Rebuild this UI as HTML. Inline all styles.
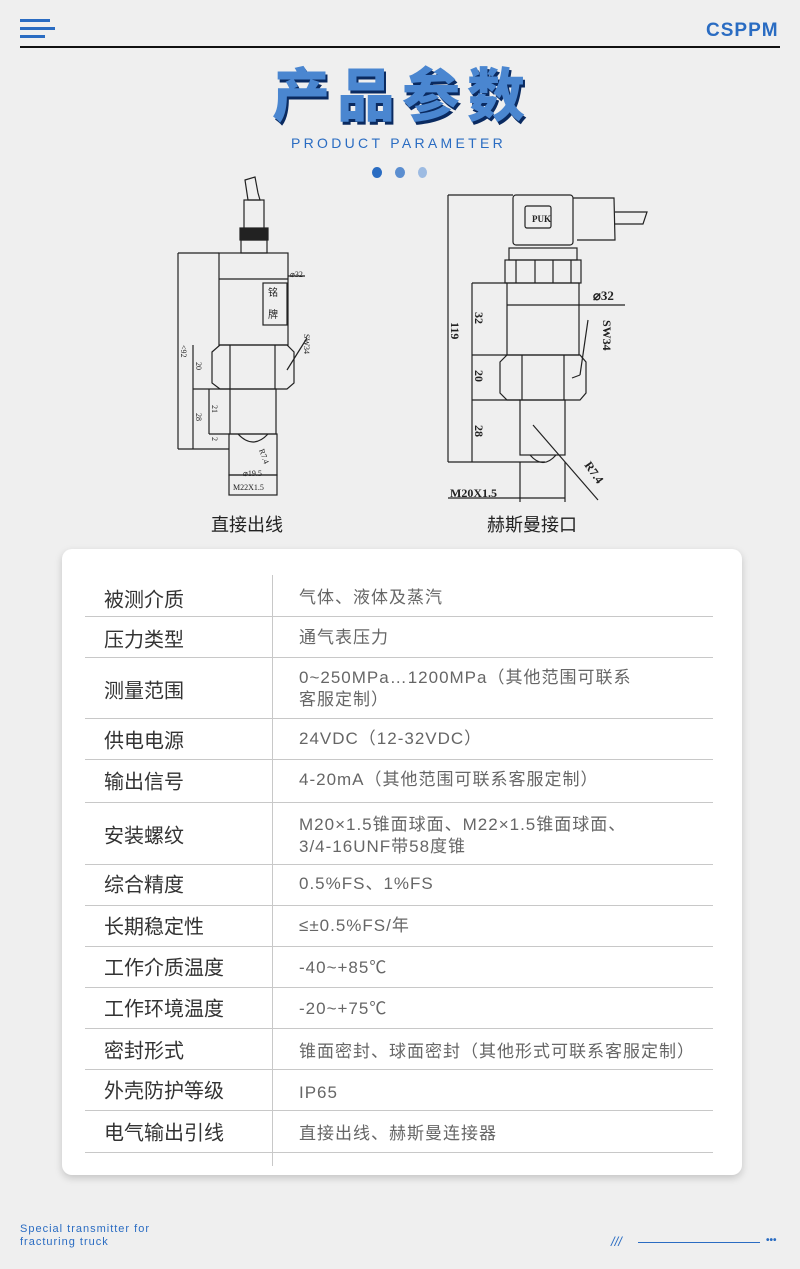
<!DOCTYPE html>
<html><head><meta charset="utf-8"><style>
*{margin:0;padding:0;box-sizing:border-box}
body{width:800px;height:1269px;background:#efefef;position:relative;overflow:hidden;font-family:"Liberation Sans","Noto Sans CJK SC",sans-serif}
.a{position:absolute;white-space:nowrap}
.card{position:absolute;left:62px;top:549px;width:680px;height:626px;background:#fff;border-radius:10px;box-shadow:0 3px 8px rgba(0,0,0,.18)}
.hl{position:absolute;left:85px;width:628px;height:1px;background:#c8c8c8}
.lb{position:absolute;left:104px;font-size:20px;color:#333;transform:translateY(-50%);white-space:nowrap}
.vl{position:absolute;left:299px;font-size:17px;color:#666;letter-spacing:1px;transform:translateY(-50%);white-space:nowrap;line-height:22px}
</style></head><body>
<div class="a" style="left:20px;top:19px;width:30px;height:3px;background:#2a6cc2"></div>
<div class="a" style="left:20px;top:27px;width:35px;height:3px;background:#2a6cc2"></div>
<div class="a" style="left:20px;top:35px;width:25px;height:3px;background:#2a6cc2"></div>
<div class="a" style="left:706px;top:20px;font-size:19px;font-weight:bold;color:#2a6cc2;letter-spacing:1px">CSPPM</div>
<div class="a" style="left:20px;top:46px;width:760px;height:2px;background:#111"></div>
<div class="a" style="left:272px;top:58px;font-size:58px;font-weight:900;color:#4a86d0;letter-spacing:7px;text-shadow:2px 3px 0 #0a2a60;font-family:'Noto Sans CJK SC',sans-serif;line-height:66px">产品参数</div>
<div class="a" style="left:291px;top:135px;font-size:14px;color:#2a6cc2;letter-spacing:3.3px">PRODUCT PARAMETER</div>
<div class="a" style="left:372px;top:167px;width:10px;height:11px;border-radius:50%;background:#2a6cc2"></div>
<div class="a" style="left:395px;top:167px;width:10px;height:11px;border-radius:50%;background:#5b8ed0"></div>
<div class="a" style="left:418px;top:167px;width:9px;height:11px;border-radius:50%;background:#9dbbe2"></div>

<svg class="a" style="left:0;top:0" width="800" height="540" fill="none" stroke="#222" stroke-width="1.2" font-family="Liberation Serif" >
<path d="M245 180 L255 177 L258 193 L260 200 L248 200 Z"/>
<rect x="244" y="200" width="20" height="32"/>
<rect x="240" y="228" width="28" height="12" fill="#222"/>
<rect x="241" y="240" width="26" height="13"/>
<rect x="219" y="253" width="69" height="92"/>
<line x1="219" y1="279" x2="288" y2="279"/>
<rect x="263" y="283" width="24" height="42"/>
<text x="268" y="296" font-size="10" fill="#222" stroke="none">铭</text>
<text x="268" y="318" font-size="10" fill="#222" stroke="none">牌</text>
<path d="M212 352 L220 345 L287 345 L294 352 L294 383 L287 389 L220 389 L212 383 Z"/>
<line x1="230" y1="345" x2="230" y2="389"/><line x1="275" y1="345" x2="275" y2="389"/>
<rect x="230" y="389" width="46" height="45"/>
<path d="M238 434 Q253 450 268 434"/>
<rect x="229" y="434" width="48" height="41"/>
<rect x="229" y="475" width="48" height="20"/>
<line x1="178" y1="253" x2="178" y2="449"/><line x1="178" y1="253" x2="219" y2="253"/><line x1="178" y1="449" x2="229" y2="449"/>
<line x1="193" y1="345" x2="193" y2="449"/><line x1="193" y1="389" x2="230" y2="389"/>
<line x1="209" y1="389" x2="209" y2="434"/><line x1="209" y1="434" x2="230" y2="434"/>
<line x1="288" y1="276" x2="305" y2="276"/><line x1="287" y1="370" x2="307" y2="338"/>
<g fill="#222" stroke="none" font-size="8">
<text x="290" y="277">⌀32</text><text x="233" y="490">M22X1.5</text><text x="243" y="476">⌀19.5</text>
<text transform="translate(181,345) rotate(90)">&lt;92</text>
<text transform="translate(196,362) rotate(90)">20</text>
<text transform="translate(196,413) rotate(90)">28</text>
<text transform="translate(212,405) rotate(90)">21</text>
<text transform="translate(212,437) rotate(90)">2</text>
<text transform="translate(259,450) rotate(70)">R7.4</text>
<text transform="translate(304,334) rotate(90)">SW34</text>
</g>
<rect x="513" y="195" width="60" height="50" rx="3"/>
<rect x="525" y="206" width="26" height="22" rx="2"/>
<text x="532" y="222" font-size="9" fill="#222" stroke="none" font-weight="bold">PUK</text>
<path d="M573 198 L614 198 L615 240 L577 240"/>
<path d="M615 212 L647 212 L643 224 L615 224"/>
<rect x="509" y="248" width="68" height="12"/>
<rect x="505" y="260" width="76" height="23"/>
<line x1="516" y1="260" x2="516" y2="283"/><line x1="535" y1="260" x2="535" y2="283"/><line x1="553" y1="260" x2="553" y2="283"/><line x1="571" y1="260" x2="571" y2="283"/>
<rect x="507" y="283" width="72" height="72"/>
<path d="M500 362 L507 355 L580 355 L586 362 L586 393 L580 400 L507 400 L500 393 Z"/>
<line x1="522" y1="355" x2="522" y2="400"/><line x1="564" y1="355" x2="564" y2="400"/>
<rect x="520" y="400" width="45" height="55"/>
<path d="M530 455 Q543 470 556 455"/>
<line x1="448" y1="195" x2="448" y2="462"/><line x1="448" y1="195" x2="513" y2="195"/><line x1="448" y1="462" x2="545" y2="462"/>
<line x1="472" y1="283" x2="472" y2="462"/><line x1="472" y1="283" x2="507" y2="283"/><line x1="472" y1="355" x2="507" y2="355"/><line x1="472" y1="400" x2="520" y2="400"/>
<line x1="507" y1="305" x2="579" y2="305"/><line x1="579" y1="305" x2="625" y2="305"/>
<line x1="588" y1="320" x2="580" y2="375"/><line x1="580" y1="375" x2="572" y2="378"/>
<line x1="533" y1="425" x2="598" y2="500"/>
<line x1="520" y1="462" x2="520" y2="502"/><line x1="565" y1="462" x2="565" y2="502"/>
<line x1="448" y1="498" x2="565" y2="498"/>
<g fill="#222" stroke="none" font-weight="bold">
<text x="593" y="300" font-size="13">⌀32</text>
<text x="450" y="497" font-size="12">M20X1.5</text>
<text transform="translate(475,312) rotate(90)" font-size="12">32</text>
<text transform="translate(475,370) rotate(90)" font-size="12">20</text>
<text transform="translate(475,425) rotate(90)" font-size="12">28</text>
<text transform="translate(451,322) rotate(90)" font-size="12">119</text>
<text transform="translate(603,320) rotate(90)" font-size="12">SW34</text>
<text transform="translate(584,465) rotate(55)" font-size="12">R7.4</text>
</g>
</svg>
<div class="a" style="left:211px;top:511px;font-size:18px;color:#222">直接出线</div>
<div class="a" style="left:487px;top:511px;font-size:18px;color:#222">赫斯曼接口</div>

<div class="card"></div>
<div class="a" style="left:272px;top:575px;width:1px;height:591px;background:#c8c8c8"></div>
<div class="hl" style="top:616px"></div><div class="hl" style="top:657px"></div><div class="hl" style="top:718px"></div>
<div class="hl" style="top:759px"></div><div class="hl" style="top:802px"></div><div class="hl" style="top:864px"></div>
<div class="hl" style="top:905px"></div><div class="hl" style="top:946px"></div><div class="hl" style="top:987px"></div>
<div class="hl" style="top:1028px"></div><div class="hl" style="top:1069px"></div><div class="hl" style="top:1110px"></div>
<div class="hl" style="top:1152px"></div>
<div class="lb" style="top:598px">被测介质</div><div class="vl" style="top:598px">气体、液体及蒸汽</div>
<div class="lb" style="top:638px">压力类型</div><div class="vl" style="top:638px">通气表压力</div>
<div class="lb" style="top:689px">测量范围</div><div class="vl" style="top:689px">0~250MPa…1200MPa（其他范围可联系<br>客服定制）</div>
<div class="lb" style="top:739px">供电电源</div><div class="vl" style="top:739px">24VDC（12-32VDC）</div>
<div class="lb" style="top:780px">输出信号</div><div class="vl" style="top:780px">4-20mA（其他范围可联系客服定制）</div>
<div class="lb" style="top:834px">安装螺纹</div><div class="vl" style="top:836px">M20×1.5锥面球面、M22×1.5锥面球面、<br>3/4-16UNF带58度锥</div>
<div class="lb" style="top:883px">综合精度</div><div class="vl" style="top:884px">0.5%FS、1%FS</div>
<div class="lb" style="top:925px">长期稳定性</div><div class="vl" style="top:926px">≤±0.5%FS/年</div>
<div class="lb" style="top:966px">工作介质温度</div><div class="vl" style="top:968px">-40~+85℃</div>
<div class="lb" style="top:1007px">工作环境温度</div><div class="vl" style="top:1009px">-20~+75℃</div>
<div class="lb" style="top:1049px">密封形式</div><div class="vl" style="top:1052px">锥面密封、球面密封（其他形式可联系客服定制）</div>
<div class="lb" style="top:1089px">外壳防护等级</div><div class="vl" style="top:1093px">IP65</div>
<div class="lb" style="top:1131px">电气输出引线</div><div class="vl" style="top:1134px">直接出线、赫斯曼连接器</div>

<div class="a" style="left:20px;top:1223px;font-size:11px;color:#2a6cc2;line-height:13px;letter-spacing:1px">Special transmitter for<br>fracturing truck</div>
<div class="a" style="left:611px;top:1234px;font-size:13px;color:#2a6cc2;font-style:italic">///</div>
<div class="a" style="left:638px;top:1242px;width:122px;height:1px;background:#2a6cc2"></div>
<div class="a" style="left:766px;top:1235px;font-size:10px;color:#2a6cc2;font-weight:bold">•••</div>
</body></html>
